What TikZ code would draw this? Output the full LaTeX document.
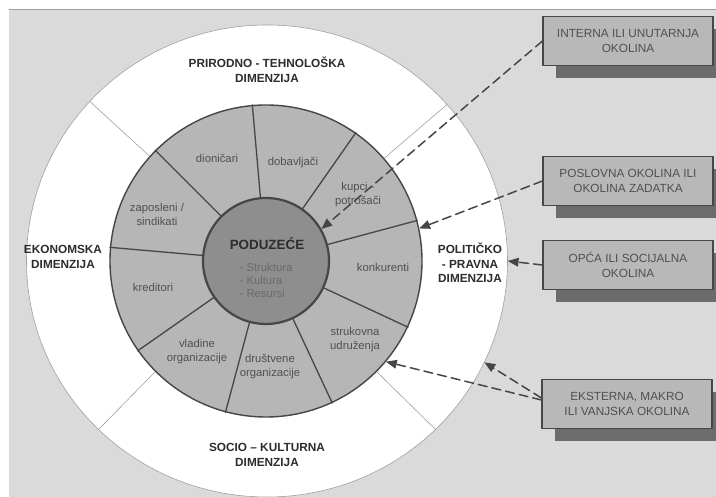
\documentclass[tikz,border=0pt]{standalone}
\usepackage{fontspec}
\setmainfont{Liberation Sans}
\usepackage{xcolor}
\usepackage{tikz}
\usetikzlibrary{arrows,shadows,shapes.geometric}
\definecolor{paper}{RGB}{218,218,218}
\definecolor{wedgefill}{RGB}{182,182,182}
\definecolor{corefill}{RGB}{142,142,142}
\definecolor{boxfill}{RGB}{184,184,184}
\definecolor{boxshade}{RGB}{108,108,108}
\definecolor{edgegray}{RGB}{70,70,70}
\definecolor{thingray}{RGB}{160,160,160}
\definecolor{labelgray}{RGB}{80,80,80}
\definecolor{dimgray}{RGB}{45,45,45}
\tikzset{
	ringtext/.style={align=center,text=labelgray,font=\fontsize{11.3}{14}\selectfont},
	dimtext/.style={align=center,text=dimgray,font=\bfseries\fontsize{11.8}{14.5}\selectfont},
	envbox/.style={draw=edgegray,line width=1.1pt,fill=boxfill,minimum width=170,minimum height=49,
		align=center,text=labelgray,font=\fontsize{11.8}{15}\selectfont,
		drop shadow={shadow xshift=13pt,shadow yshift=-13pt,fill=boxshade,opacity=1}},
	envlink/.style={->,dash pattern=on 9pt off 5pt,line width=1.5pt,color=edgegray},
	spoke/.style={line width=1.3pt,color=edgegray},
	divider/.style={line width=0.6pt,color=thingray}
}
\begin{document}
\begin{tikzpicture}[line cap=round,line join=round,>=triangle 45,x=1.0pt,y=1.0pt]
		\useasboundingbox (0,0) rectangle (716,497);
		\fill [paper] (9,0) rectangle (716,487);
		\draw [line width=1pt,color=thingray] (9,487)-- (716,487);
		% the three rings
		\node [ellipse,draw=thingray,line width=0.6pt,fill=white,minimum width=481,minimum height=472] (outer) at (267,236) {};
		\node [circle,draw=edgegray,line width=1.4pt,fill=wedgefill,minimum size=312] (ring) at (266,236) {};
		\node [circle,draw=edgegray,line width=2.2pt,fill=corefill,minimum size=126] (poduz) at (266,236) {};
		\foreach \a in {95,55,15,-25,-65,-105,-145,175,135}
			\draw [spoke] (poduz.\a)-- (ring.\a);
		\foreach \a in {41,138,225,315}
			\draw [divider] (ring.\a)-- (outer.\a);
		\node [text=dimgray,font=\bfseries\fontsize{13.4}{14}\selectfont] (firm) at (267,253) {PODUZEĆE};
		\node [align=left,text=labelgray!85,font=\fontsize{11.3}{13}\selectfont] (firmparts) at (266,217) {- Struktura\\- Kultura\\- Resursi};
		% stakeholders
		\node [ringtext] (dion) at (217,339) {dioničari};
		\node [ringtext] (dobav) at (293,334) {dobavljači};
		\node [ringtext] (kupci) at (358,302) {kupci -\\potrošači};
		\node [ringtext] (konk) at (383,230) {konkurenti};
		\node [ringtext] (struk) at (355,157) {strukovna\\udruženja};
		\node [ringtext] (drust) at (270,130) {društvene\\organizacije};
		\node [ringtext] (vlad) at (197,145) {vladine\\organizacije};
		\node [ringtext] (kred) at (153,210) {kreditori};
		\node [ringtext] (zapos) at (157,283) {zaposleni /\\sindikati};
		% dimensions
		\node [dimtext] (prirodno) at (267,427) {PRIRODNO - TEHNOLOŠKA\\DIMENZIJA};
		\node [dimtext] (ekonom) at (63,240) {EKONOMSKA\\DIMENZIJA};
		\node [dimtext] (polit) at (470,234) {POLITIČKO\\- PRAVNA\\DIMENZIJA};
		\node [dimtext] (socio) at (267,42) {SOCIO – KULTURNA\\DIMENZIJA};
		% environments
		\node [envbox] (intern) at (628,456) {INTERNA ILI UNUTARNJA\\OKOLINA};
		\node [envbox] (poslov) at (628,316) {POSLOVNA OKOLINA ILI\\OKOLINA ZADATKA};
		\node [envbox] (opca) at (628,232) {OPĆA ILI SOCIJALNA\\OKOLINA};
		\node [envbox] (ekstern) at (627,93) {EKSTERNA, MAKRO\\ILI VANJSKA OKOLINA};
		\draw [envlink] (intern.west)-- (poduz.30);
		\draw [envlink] (poslov.west)-- (ring.12);
		\draw [envlink] (opca.west)-- (outer.0);
		\draw [envlink] ([yshift=4pt]ekstern.west)-- (ring.-40);
		\draw [envlink] ([yshift=6pt]ekstern.west)-- (outer.-25);
	\end{tikzpicture}
\end{document}
